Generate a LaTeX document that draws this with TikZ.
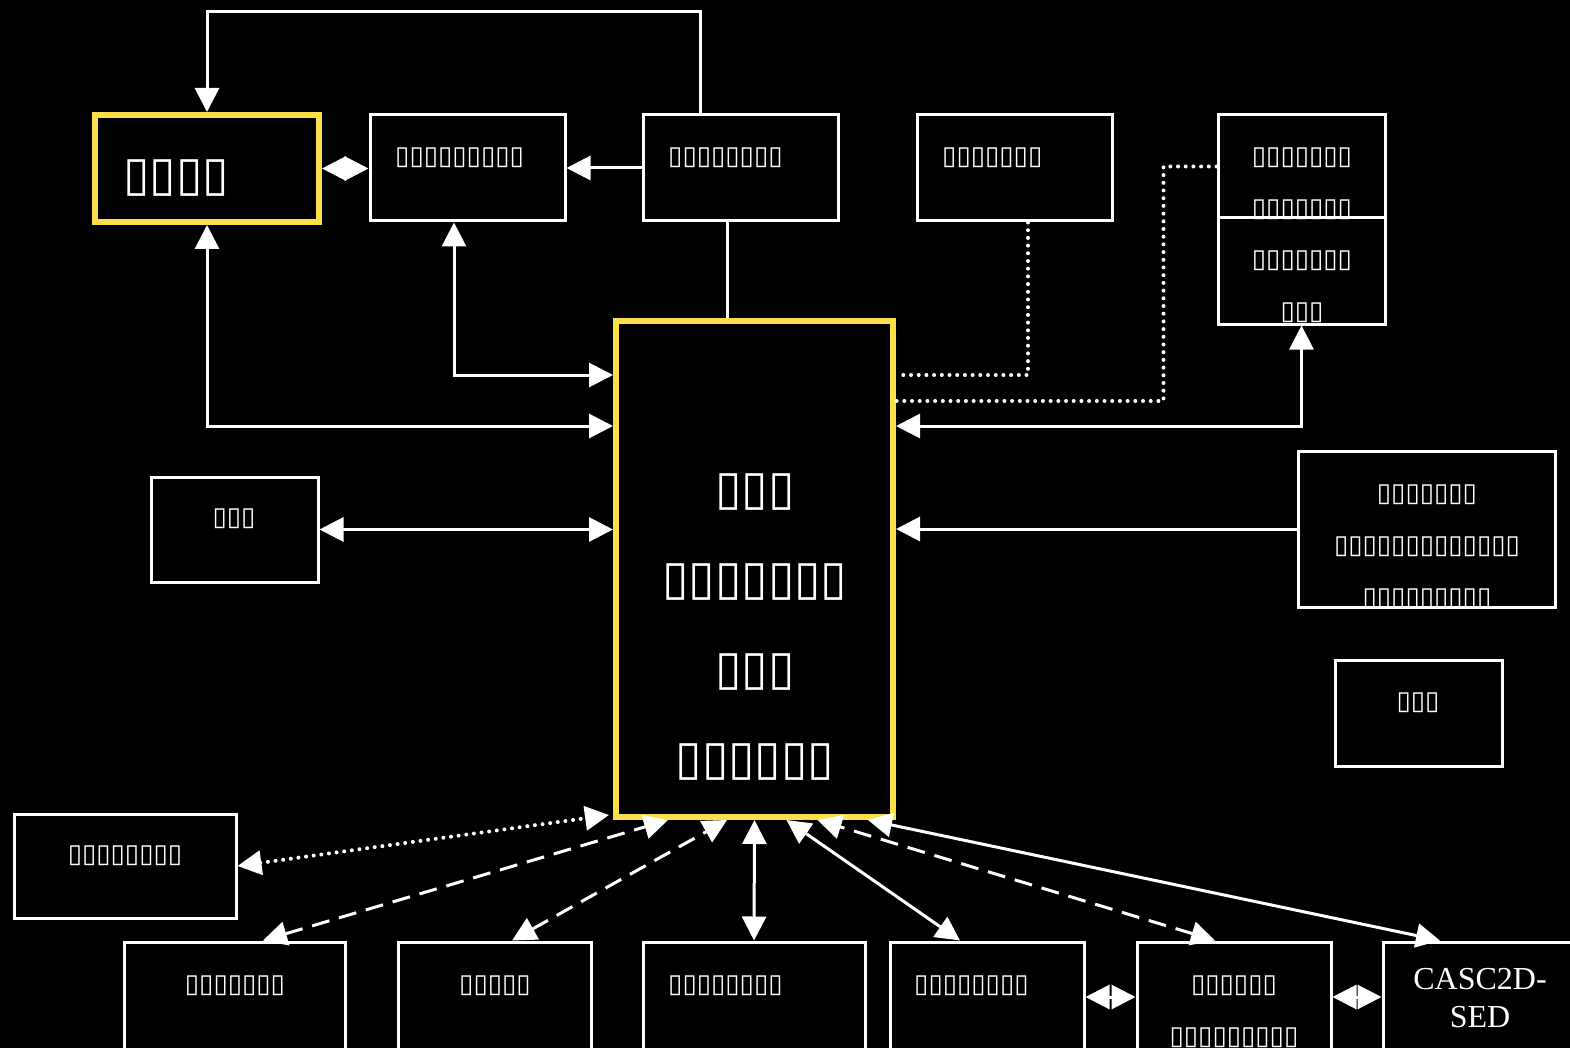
\documentclass[tikz,border=0pt]{standalone}
\usepackage{fontspec}
\setmainfont{Liberation Serif}
\newfontfamily\boxfont{DejaVu Sans}
\usepackage{tikz}
\usetikzlibrary{arrows.meta,positioning,calc}
\definecolor{cLine}{HTML}{FFFFFF}
\definecolor{cHi}{HTML}{F9E04B}
\definecolor{cBg}{HTML}{000000}
\tikzset{
  blk/.style={draw=cLine, line width=3pt, fill=cBg, inner sep=0pt},
  hiblk/.style={blk, draw=cHi, line width=6pt},
  txt/.style={text=cLine, inner sep=0pt, align=center,
              font=\fontsize{26}{52}\selectfont\boxfont},
  bigtxt/.style={txt, font=\fontsize{48}{90}\selectfont\boxfont\bfseries},
  sertxt/.style={txt, font=\fontsize{32}{38}\selectfont},
  ln/.style={line width=3pt, cLine},
  arr/.style={ln, -{Triangle[length=24pt,width=24pt]}},
  dblarr/.style={ln, {Triangle[length=24pt,width=24pt]}-{Triangle[length=24pt,width=24pt]}},
  dotln/.style={line width=4pt, line cap=round, dash pattern=on 0pt off 7.7pt},
  dashln/.style={dash pattern=on 18pt off 10pt}
}
\begin{document}
\begin{tikzpicture}[x=1pt,y=-1pt]
\fill[cBg] (0,0) rectangle (1570,1048);
\useasboundingbox (0,0) rectangle (1570,1048);
\clip (0,0) rectangle (1570,1048);
% boxes
\node[hiblk, minimum width=277pt, minimum height=496pt] (ctrl) at (754.5,569) {};
\node[hiblk, minimum width=224pt, minimum height=107pt] (A) at (207,168.5) {};
\node[blk, minimum width=195pt, minimum height=106pt] (B) at (467.5,168) {};
\node[blk, minimum width=195pt, minimum height=106pt] (C) at (740.5,168) {};
\node[blk, minimum width=195pt, minimum height=106pt] (D) at (1014.5,168) {};
\node[blk, minimum width=167pt, minimum height=103pt] (E) at (1301.5,166.5) {};
\node[blk, minimum width=167pt, minimum height=106pt] (F) at (1301.5,271) {};
\node[blk, minimum width=167pt, minimum height=105pt] (G) at (234.5,529.5) {};
\node[blk, minimum width=257pt, minimum height=156pt] (H) at (1426.5,529) {};
\node[blk, minimum width=167pt, minimum height=106pt] (I) at (1418.5,713) {};
\node[blk, minimum width=222pt, minimum height=104pt] (J) at (125,866) {};
\node[blk, minimum width=221pt, minimum height=120pt] (K1) at (234.5,1002) {};
\node[blk, minimum width=193pt, minimum height=120pt] (K2) at (494.5,1002) {};
\node[blk, minimum width=222pt, minimum height=120pt] (K3) at (754,1002) {};
\node[blk, minimum width=194pt, minimum height=120pt] (K4) at (987,1002) {};
\node[blk, minimum width=194pt, minimum height=120pt] (K5) at (1234,1002) {};
\node[blk, minimum width=197pt, minimum height=120pt] (K6) at (1481.5,1002) {};
% texts
\node[bigtxt] (tctrl) at (755,627) {▯▯▯\\▯▯▯▯▯▯▯\\▯▯▯\\▯▯▯▯▯▯};
\node[bigtxt, anchor=west] (tA) at (123,178) {▯▯▯▯};
\node[txt, anchor=west] (tB) at (395,158) {▯▯▯▯▯▯▯▯▯};
\node[txt, anchor=west] (tC) at (668,158) {▯▯▯▯▯▯▯▯};
\node[txt, anchor=west] (tD) at (942,158) {▯▯▯▯▯▯▯};
\node[txt] (tE) at (1302,184) {▯▯▯▯▯▯▯\\▯▯▯▯▯▯▯};
\node[txt] (tF) at (1302,287) {▯▯▯▯▯▯▯\\▯▯▯};
\node[txt] (tG) at (234,519) {▯▯▯};
\node[txt] (tH) at (1427,547) {▯▯▯▯▯▯▯\\▯▯▯▯▯▯▯▯▯▯▯▯▯\\▯▯▯▯▯▯▯▯▯};
\node[txt] (tI) at (1418,703) {▯▯▯};
\node[txt] (tJ) at (125,856) {▯▯▯▯▯▯▯▯};
\node[txt] (tK1) at (235,986) {▯▯▯▯▯▯▯};
\node[txt] (tK2) at (495,986) {▯▯▯▯▯};
\node[txt, anchor=west] (tK3) at (668,986) {▯▯▯▯▯▯▯▯};
\node[txt, anchor=west] (tK4) at (914,986) {▯▯▯▯▯▯▯▯};
\node[txt] (tK5) at (1234,1011.5) {▯▯▯▯▯▯\\▯▯▯▯▯▯▯▯▯};
\node[sertxt] (tK6) at (1480,998) {CASC2D-\\SED};
% top connectors
\draw[arr] ([xshift=-40.5pt]C.north) -- ++(0,-102) -| (A.north);
\draw[arr] (C.west) -- (B.east);
\draw[dblarr] (A.east) -- (A.east -| B.west);
\draw[ln] ([xshift=-13.5pt]C.south) -- ([xshift=-13.5pt]C.south |- ctrl.north);
\draw[dblarr] ([xshift=-13.5pt]B.south) |- (ctrl.west |- 0,375);
\draw[dblarr] (A.south) |- (ctrl.west |- 0,426);
\draw[ln, dotln] ([xshift=13.5pt]D.south) |- (ctrl.east |- 0,375);
\draw[ln, dotln] (E.west) -- ++(-53,0) |- (ctrl.east |- 0,401);
\draw[dblarr] (F.south) |- (ctrl.east |- 0,426);
% side connectors
\draw[arr] (H.west) -- (H.west -| ctrl.east);
\draw[dblarr] (G.east) -- (G.east -| ctrl.west);
% bottom connectors
\draw[dblarr, dotln] (J.east) -- ([xshift=-4pt,yshift=5pt]ctrl.south west);
\draw[dblarr, dashln] ([xshift=28.5pt]K1.north) -- ([xshift=-86.5pt]ctrl.south);
\draw[dblarr, dashln] ([xshift=17.5pt]K2.north) -- ([xshift=-27.5pt]ctrl.south);
\draw[dblarr] (K3.north) -- (ctrl.south);
\draw[dblarr] ([xshift=-27pt]K4.north) -- ([xshift=32pt]ctrl.south);
\draw[dblarr, dashln] ([xshift=-19pt]K5.north) -- ([xshift=63pt]ctrl.south);
\draw[dblarr] ([xshift=-41.5pt]K6.north) -- ([xshift=113.5pt]ctrl.south);
\draw[dblarr] ([yshift=5pt]K4.east) -- ([yshift=5pt]K5.west);
\draw[dblarr] ([yshift=5pt]K5.east) -- ([yshift=5pt]K6.west);
\end{tikzpicture}
\end{document}
